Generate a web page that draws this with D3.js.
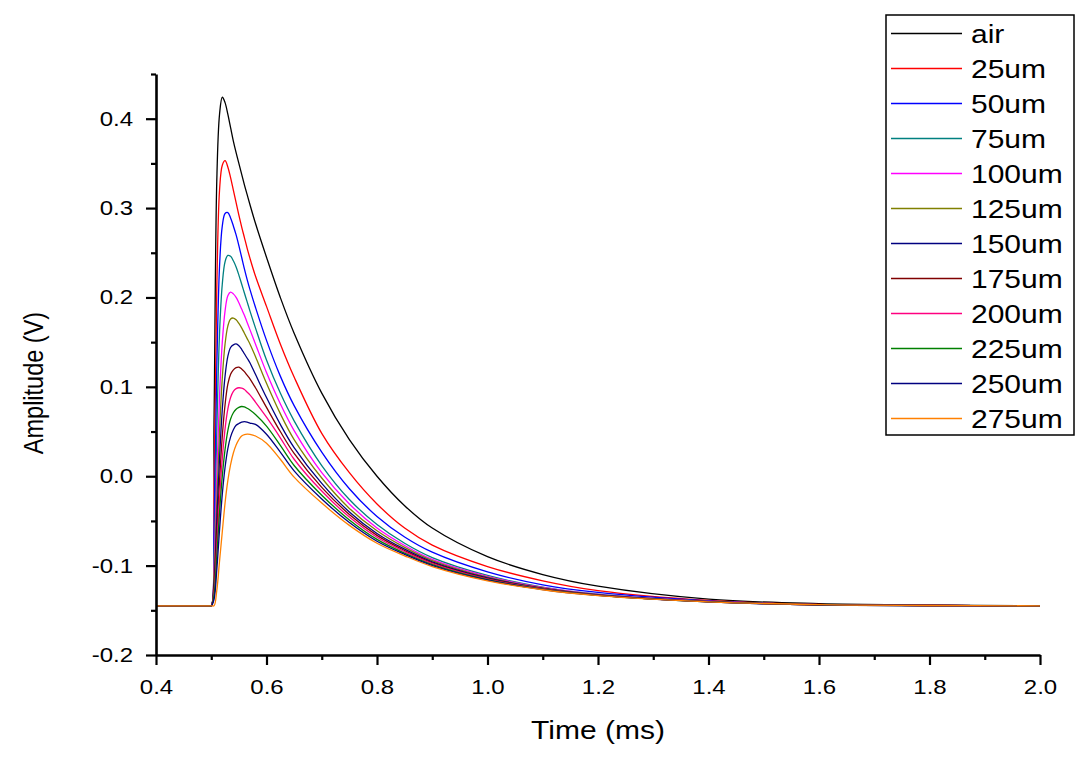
<!DOCTYPE html>
<html><head><meta charset="utf-8">
<script src="https://cdn.jsdelivr.net/npm/d3@7"></script>
<style>body{margin:0;background:#fff}svg{display:block}</style>
</head><body><svg id="c" width="1088" height="759"></svg>
<script>
// ---- data ----
const times=[0.4,0.495,0.5,0.505,0.51,0.515,0.52,0.525,0.53,0.535,0.54,0.545,0.55,0.555,0.56,0.565,0.57,0.58,0.6,0.625,0.65,0.7,0.75,0.8,0.85,0.9,1.0,1.1,1.2,1.4,1.6,1.8,2.0];
const seriesNames=["air","25um","50um","75um","100um","125um","150um","175um","200um","225um","250um","275um"];
const air=[-0.145,-0.145,-0.145,0.06,0.33,0.405,0.424,0.418,0.405,0.390,0.375,0.362,0.350,0.338,0.326,0.315,0.304,0.283,0.245,0.200,0.160,0.093,0.041,0.000,-0.033,-0.058,-0.090,-0.110,-0.123,-0.1375,-0.1425,-0.144,-0.145];
const um25=[-0.145,-0.145,-0.145,-0.02,0.21,0.32,0.348,0.353,0.346,0.334,0.320,0.306,0.292,0.279,0.267,0.255,0.244,0.224,0.190,0.148,0.111,0.048,0.004,-0.031,-0.058,-0.077,-0.101,-0.117,-0.128,-0.139,-0.1435,-0.1445,-0.145];
const um50=[-0.145,-0.145,-0.145,-0.06,0.12,0.235,0.280,0.294,0.295,0.289,0.280,0.270,0.258,0.245,0.232,0.220,0.209,0.189,0.152,0.112,0.079,0.027,-0.014,-0.045,-0.068,-0.085,-0.107,-0.1215,-0.130,-0.1395,-0.1437,-0.1446,-0.145];
const um75=[-0.145,-0.145,-0.145,-0.09,0.05,0.16,0.215,0.240,0.247,0.246,0.241,0.234,0.225,0.215,0.205,0.195,0.185,0.166,0.130,0.093,0.062,0.012,-0.026,-0.054,-0.075,-0.091,-0.111,-0.124,-0.132,-0.140,-0.1438,-0.1446,-0.145];
const um100=[-0.145,-0.145,-0.145,-0.10,0.00,0.09,0.150,0.185,0.202,0.206,0.204,0.200,0.194,0.187,0.180,0.172,0.164,0.148,0.116,0.081,0.051,0.004,-0.031,-0.058,-0.0775,-0.093,-0.112,-0.1245,-0.1323,-0.1401,-0.1437,-0.1446,-0.145];
const um125=[-0.145,-0.145,-0.145,-0.11,-0.03,0.05,0.110,0.148,0.168,0.176,0.177,0.175,0.171,0.166,0.160,0.154,0.148,0.134,0.104,0.070,0.041,-0.002,-0.036,-0.061,-0.0796,-0.0943,-0.113,-0.125,-0.1325,-0.1402,-0.1437,-0.1446,-0.145];
const um150=[-0.145,-0.145,-0.145,-0.12,-0.05,0.02,0.075,0.112,0.134,0.144,0.147,0.148,0.146,0.142,0.137,0.132,0.127,0.114,0.088,0.058,0.032,-0.008,-0.040,-0.064,-0.0816,-0.0957,-0.1138,-0.1254,-0.1327,-0.1403,-0.1438,-0.1446,-0.145];
const um175=[-0.145,-0.145,-0.145,-0.125,-0.065,-0.005,0.045,0.080,0.103,0.114,0.119,0.1215,0.122,0.120,0.117,0.113,0.109,0.099,0.077,0.050,0.0255,-0.0124,-0.0428,-0.0662,-0.0831,-0.0968,-0.1145,-0.1257,-0.1329,-0.1403,-0.1438,-0.1446,-0.145];
const um200=[-0.145,-0.145,-0.145,-0.13,-0.08,-0.025,0.020,0.053,0.075,0.088,0.095,0.098,0.099,0.0985,0.097,0.094,0.091,0.083,0.066,0.043,0.019,-0.0166,-0.0457,-0.0683,-0.0845,-0.0978,-0.1151,-0.126,-0.133,-0.1404,-0.1439,-0.1447,-0.145];
const um225=[-0.145,-0.145,-0.145,-0.133,-0.09,-0.04,0.000,0.030,0.051,0.064,0.071,0.075,0.077,0.078,0.0775,0.076,0.074,0.069,0.056,0.0345,0.012,-0.0212,-0.0489,-0.0706,-0.0861,-0.0989,-0.1157,-0.1264,-0.1332,-0.1404,-0.1439,-0.1447,-0.145];
const um250=[-0.145,-0.145,-0.145,-0.138,-0.105,-0.06,-0.02,0.010,0.031,0.044,0.052,0.057,0.059,0.0605,0.061,0.0605,0.0595,0.058,0.047,0.027,0.006,-0.0254,-0.0518,-0.0727,-0.0875,-0.0999,-0.1163,-0.1267,-0.1333,-0.1405,-0.144,-0.1447,-0.145];
const um275=[-0.145,-0.145,-0.145,-0.145,-0.128,-0.095,-0.062,-0.030,-0.005,0.013,0.026,0.035,0.041,0.045,0.0465,0.047,0.0468,0.045,0.037,0.019,-0.001,-0.030,-0.055,-0.075,-0.089,-0.101,-0.117,-0.127,-0.1335,-0.1405,-0.1437,-0.1446,-0.145];
const xTicks=[0.4,0.6,0.8,1.0,1.2,1.4,1.6,1.8,2.0];
const xMinor=[0.5,0.7,0.9,1.1,1.3,1.5,1.7,1.9];
const yTicks=[-0.2,-0.1,0.0,0.1,0.2,0.3,0.4];
const yMinor=[-0.15,-0.05,0.05,0.15,0.25,0.35,0.45];
const xTitle="Time (ms)", yTitle="Amplitude (V)";

// ---- style ----
const colors=["#000000","#ff0000","#0000ff","#008080","#ff00ff","#808000","#000080","#800000","#ff0080","#008000","#000080","#ff8000"];
const FONT="'Liberation Sans', Arial, sans-serif";
const SX=1.2; // horizontal glyph stretch seen in the reference
const fmt=d=>d3.format(".1f")(d).replace("\u2212","-");

const series=[air,um25,um50,um75,um100,um125,um150,um175,um200,um225,um250,um275];
const svg=d3.select("#c");
const x=d3.scaleLinear().domain([0.4,2.0]).range([156,1040]);
const y=d3.scaleLinear().domain([-0.2,0.45]).range([655,74]);

const line=d3.line().x(d=>x(d[0])).y(d=>y(d[1])).curve(d3.curveCatmullRom.alpha(0.5));
const g=svg.append("g");
series.forEach((vals,i)=>{
  g.append("path").datum(times.map((t,j)=>[t,vals[j]]))
   .attr("d",line).attr("fill","none").attr("stroke",colors[i]).attr("stroke-width",1.3);
});

// axes
function styleAxis(sel){
  sel.select(".domain").attr("stroke","#000").attr("stroke-width",2.6);
  sel.selectAll(".tick line").attr("stroke","#000").attr("stroke-width",2.2);
}
const gy=svg.append("g").attr("transform","translate(156,0)")
  .call(d3.axisLeft(y).tickValues(yTicks).tickSize(10).tickSizeOuter(0).tickFormat(fmt));
styleAxis(gy);
gy.selectAll(".tick text").attr("font-family",FONT).attr("font-size",20).attr("fill","#000")
  .attr("transform",`scale(${SX},1)`).attr("x",-23/SX);
const gym=svg.append("g").attr("transform","translate(156,0)")
  .call(d3.axisLeft(y).tickValues(yMinor).tickSize(5).tickSizeOuter(0).tickFormat(""));
styleAxis(gym); gym.select(".domain").remove();

const gx=svg.append("g").attr("transform","translate(0,655)")
  .call(d3.axisBottom(x).tickValues(xTicks).tickSize(10).tickSizeOuter(0).tickPadding(15).tickFormat(fmt));
styleAxis(gx);
gx.selectAll(".tick text").attr("font-family",FONT).attr("font-size",20).attr("fill","#000")
  .attr("transform",`scale(${SX},1)`);
const gxm=svg.append("g").attr("transform","translate(0,655)")
  .call(d3.axisBottom(x).tickValues(xMinor).tickSize(5).tickSizeOuter(0).tickFormat(""));
styleAxis(gxm); gxm.select(".domain").remove();

// titles
svg.append("text").attr("transform",`translate(598,739) scale(${SX},1)`)
  .attr("text-anchor","middle").attr("font-family",FONT).attr("font-size",25).text(xTitle);
svg.append("text").attr("transform",`translate(43,383) scale(${SX},1) rotate(-90)`)
  .attr("text-anchor","middle").attr("font-family",FONT).attr("font-size",23.5).text(yTitle);

// legend
const lg=svg.append("g");
lg.append("rect").attr("x",886).attr("y",15).attr("width",188).attr("height",420)
  .attr("fill","#fff").attr("stroke","#000").attr("stroke-width",1.5);
seriesNames.forEach((n,i)=>{
  const cy=33.5+35*i;
  lg.append("line").attr("x1",891).attr("x2",962).attr("y1",cy).attr("y2",cy)
    .attr("stroke",colors[i]).attr("stroke-width",1.3);
  lg.append("text").attr("transform",`translate(971,${cy+9}) scale(${SX},1)`)
    .attr("font-family",FONT).attr("font-size",25).text(n);
});
</script></body></html>
